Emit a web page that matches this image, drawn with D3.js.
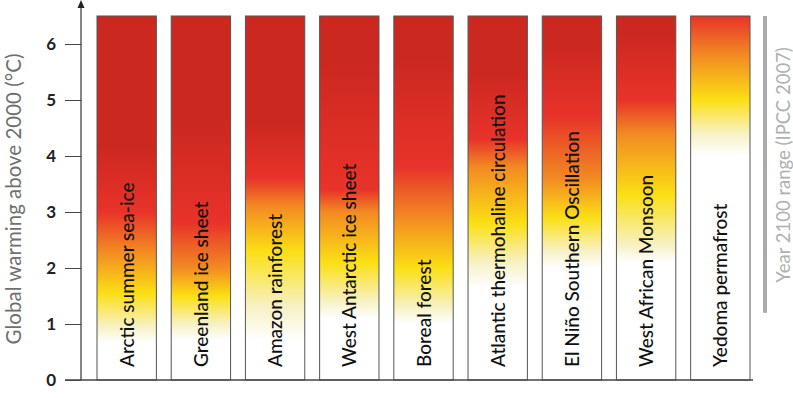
<!DOCTYPE html>
<html>
<head>
<meta charset="utf-8">
<script src="https://cdn.jsdelivr.net/npm/d3@7"></script>
<style>
  body { margin: 0; background: #fff; }
  svg { display: block; font-family: Lato, "Open Sans", sans-serif; }
</style>
</head>
<body>
<div id="chart"></div>
<script>
// 類別（每個臨界元素）
const categories = [
  "Arctic summer sea-ice", "Greenland ice sheet", "Amazon rainforest",
  "West Antarctic ice sheet", "Boreal forest", "Atlantic thermohaline circulation",
  "El Niño Southern Oscillation", "West African Monsoon", "Yedoma permafrost"
];
const yTicks = [0, 1, 2, 3, 4, 5, 6];
const yMax = 6.5;
const ipccRange = [1.2, 6.5];

// 漸層轉換點（°C）
const whiteEnd = [0.66, 0.7, 0.7, 1.1, 1.0, 1.65, 2.0, 2.1, 4.0];
const paleAt   = [0.95, 1.0, 1.3, 1.4, 1.3, 2.1, 2.3, 2.4, 4.4];
const yellowAt = [1.55, 1.5, 2.3, 2.1, 2.0, 2.8, 2.9, 3.3, 5.0];
const orangeAt = [2.3, 2.0, 3.1, 3.0, 2.9, 3.8, 3.6, 4.4, 5.8];
const redAt    = [3.0, 2.8, 3.6, 3.4, 3.8, 4.3, 4.7, 5.0, 6.5];
const darkAt   = [4.2, 4.6, 4.6, 5.7, 5.8, 5.5, 6.0, 6.2, null];
const stopColors = ["#ffffff", "#f7f1c6", "#fbdf14", "#f28a22", "#e8332a", "#cb2820"];

const width = 793, height = 398;

const svg = d3.select("#chart").append("svg")
  .attr("width", width).attr("height", height);

const y = d3.scaleLinear().domain([0, yMax]).range([380, 16]);
const x = d3.scaleBand().domain(categories).range([97, 750])
  .paddingInner(0.2).paddingOuter(0);

// 每根柱子的漸層
const defs = svg.append("defs");
categories.forEach((c, i) => {
  const g = defs.append("linearGradient")
    .attr("id", "grad" + i)
    .attr("gradientUnits", "userSpaceOnUse")
    .attr("x1", 0).attr("x2", 0)
    .attr("y1", y(0)).attr("y2", y(yMax));
  const vals = [whiteEnd[i], paleAt[i], yellowAt[i], orangeAt[i], redAt[i], darkAt[i]];
  vals.forEach((v, k) => {
    if (v == null) return;
    g.append("stop")
      .attr("offset", Math.min(v / yMax, 1))
      .attr("stop-color", stopColors[k]);
  });
});

// 柱子
svg.selectAll(".bar")
  .data(categories)
  .enter()
  .append("rect")
  .attr("class", "bar")
  .attr("x", d => x(d))
  .attr("y", y(yMax))
  .attr("width", x.bandwidth())
  .attr("height", y(0) - y(yMax))
  .attr("fill", (d, i) => `url(#grad${i})`)
  .attr("stroke", "#555")
  .attr("stroke-width", 1);

// 柱內文字
svg.selectAll(".barLabel")
  .data(categories)
  .enter()
  .append("text")
  .attr("class", "barLabel")
  .attr("transform", d => `translate(${x(d) + x.bandwidth() / 2 + 7}, 367) rotate(-90)`)
  .attr("text-anchor", "start")
  .attr("fill", "#111")
  .style("font-size", "19px")
  .style("font-weight", 500)
  .text(d => d);

// 底線
svg.append("line")
  .attr("x1", 65).attr("x2", 753)
  .attr("y1", y(0)).attr("y2", y(0))
  .attr("stroke", "#444").attr("stroke-width", 1.5);

// y 軸
const yAxis = svg.append("g")
  .attr("transform", "translate(81,0)")
  .call(d3.axisLeft(y).tickValues(yTicks).tickSize(16).tickPadding(9)
    .tickSizeOuter(0).tickFormat(d3.format("d")));
yAxis.select(".domain").remove();
yAxis.selectAll(".tick line").attr("stroke", "#444");
yAxis.selectAll(".tick text")
  .attr("fill", "#222")
  .style("font-size", "17px")
  .style("font-weight", "bold")
  .style("font-family", "Lato, sans-serif");

svg.append("line")
  .attr("x1", 81).attr("x2", 81)
  .attr("y1", y(0)).attr("y2", 6)
  .attr("stroke", "#333").attr("stroke-width", 1.2);
svg.append("path")
  .attr("d", "M81,0 L77.5,8 L84.5,8 Z")
  .attr("fill", "#222");

// y 軸標題
svg.append("text")
  .attr("transform", `translate(21, 199) rotate(-90)`)
  .attr("text-anchor", "middle")
  .attr("fill", "#6f6f6f")
  .style("font-size", "20.5px")
  .text("Global warming above 2000 (°C)");

// IPCC 2100 範圍
svg.append("rect")
  .attr("x", 763)
  .attr("y", y(ipccRange[1]))
  .attr("width", 4)
  .attr("height", y(ipccRange[0]) - y(ipccRange[1]))
  .attr("fill", "#aaa");

svg.append("text")
  .attr("transform", `translate(790, 165) rotate(-90)`)
  .attr("text-anchor", "middle")
  .attr("fill", "#b0b0b0")
  .style("font-size", "18.5px")
  .text("Year 2100 range (IPCC 2007)");
</script>
</body>
</html>
